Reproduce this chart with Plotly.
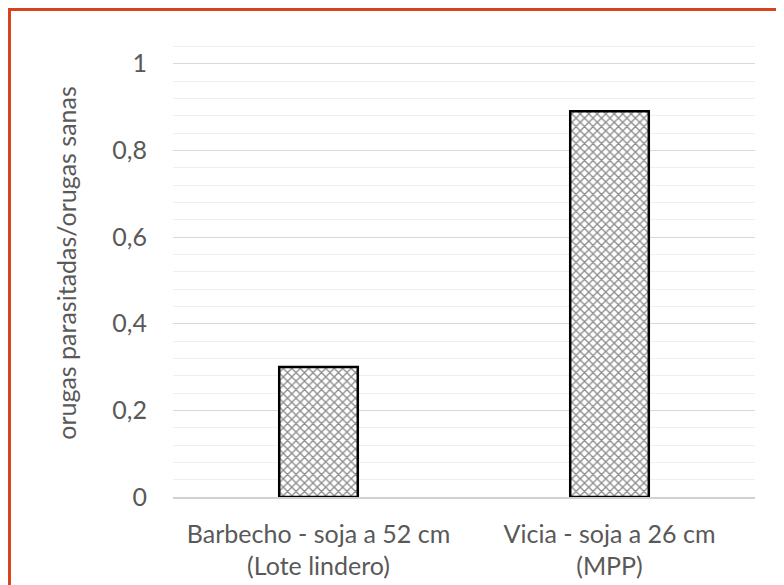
import plotly.graph_objects as go

categories = ["Barbecho - soja a 52 cm<br>(Lote lindero)", "Vicia - soja a 26 cm<br>(MPP)"]
values = [0.30, 0.89]
ytick_vals = [0, 0.2, 0.4, 0.6, 0.8, 1.0]
ytick_labels = ["0", "0,2", "0,4", "0,6", "0,8", "1"]
y_title = "orugas parasitadas/orugas sanas"

FONT = "Lato"
TXT = "#595959"

# page body has an 8px default margin; figure is sized to fit the window
W, H = 776, 577
ML, MT, MR, MB = 165, 21, 29, 88
pw = W - ML - MR
ph = H - MT - MB

fig = go.Figure()
fig.add_trace(go.Bar(
    x=categories,
    y=values,
    width=0.27,
    marker=dict(
        color="white",
        line=dict(color="#000000", width=2.5),
        pattern=dict(shape="x", fgcolor="#1a1a1a", bgcolor="white", size=6, solidity=0.4),
    ),
    hoverinfo="skip",
))

fig.update_layout(
    width=W, height=H,
    margin=dict(l=ML, r=MR, t=MT, b=MB, autoexpand=False),
    paper_bgcolor="white", plot_bgcolor="white",
    showlegend=False,
    font=dict(family=FONT, color=TXT),
    shapes=[dict(
        type="rect", xref="paper", yref="paper",
        x0=(1.5 - ML) / pw, x1=1.1, y0=-0.3, y1=1 + (MT - 1.5) / ph,
        line=dict(color="#D5441C", width=3), fillcolor="rgba(0,0,0,0)", layer="above",
    )],
)
fig.update_yaxes(
    range=[0, 1.0801],
    tickvals=ytick_vals, ticktext=ytick_labels,
    showgrid=True, gridcolor="#D9D9D9", gridwidth=1.3,
    minor=dict(dtick=0.04, tick0=0, showgrid=True, gridcolor="#EFEFEF", gridwidth=1.3),
    zeroline=False, showline=False,
    tickfont=dict(family=FONT, size=25, color=TXT),
    ticklabelstandoff=25,
    title=dict(text=y_title, font=dict(family=FONT, size=25, color=TXT), standoff=28),
)
fig.update_xaxes(
    showline=True, linecolor="#D0D0D0", linewidth=1.5,
    showgrid=False,
    tickfont=dict(family=FONT, size=25, color=TXT),
    ticklabelstandoff=14,
)

fig.write_html("out.html")
